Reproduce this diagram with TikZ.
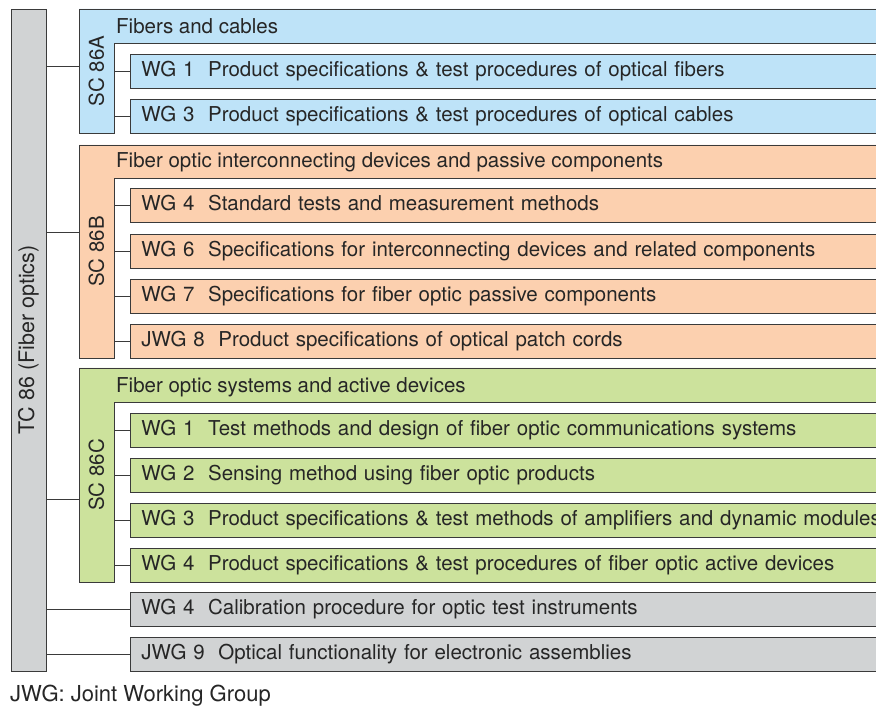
\documentclass[tikz,border=0pt]{standalone}
\usepackage{fontspec}
\setmainfont{TeX Gyre Heros}
\usetikzlibrary{positioning}
\definecolor{scblue}{HTML}{BEE3F8}
\definecolor{scorange}{HTML}{FCD0AF}
\definecolor{scgreen}{HTML}{CCE29C}
\definecolor{tcgray}{HTML}{D1D3D4}
\definecolor{boxline}{HTML}{3A3A3A}

\begin{document}
\begin{tikzpicture}[x=1pt, y=-1pt,
 every node/.style = {font=\fontsize{20.5}{24}\selectfont, text=black!85},
 tcbar/.style = {draw=boxline, fill=tcgray, thick, rotate=90,
      font=\fontsize{21.5}{25}\selectfont,
      minimum width=662pt, minimum height=35pt, inner sep=0pt},
 sclabel/.style = {rotate=90, minimum width=#1, minimum height=35pt, inner sep=0pt},
 header/.style = {anchor=west, inner sep=0pt, text height=15pt, text depth=4.5pt},
 wgbox/.style = {draw=boxline, fill=#1, thick, anchor=west,
      minimum height=34pt, text width=770pt, inner xsep=11pt, inner ysep=0pt,
      text height=15pt, text depth=4.5pt, align=left},
 group/.style = {draw=boxline, fill=#1, thick},
 link/.style = {draw=boxline, semithick}
                    ]
\useasboundingbox (0,0) rectangle (876,708);
\clip (0,0) rectangle (876,708);
% technical committee
\node(tc) [tcbar] at (28.5,340) {TC 86 (Fiber optics)};
% subcommittees
\path[group=scblue]   (79,9)   -| (900,43)  -| (114,133) -- (79,133) -- cycle;
\path[group=scorange] (79,145) -| (900,178) -| (114,358) -- (79,358) -- cycle;
\path[group=scgreen]  (79,368) -| (900,402) -| (114,582) -- (79,582) -- cycle;
\node(scA) [sclabel=124pt] at (96.5,71)    {SC 86A};
\node(scB) [sclabel=213pt] at (96.5,251.5) {SC 86B};
\node(scC) [sclabel=214pt] at (96.5,475)   {SC 86C};
\node(hA) [header] at (116,28)    {Fibers and cables};
\node(hB) [header] at (116,162.75) {Fiber optic interconnecting devices and passive components};
\node(hC) [header] at (116,387.75) {Fiber optic systems and active devices};
% working groups
\node(a1) [wgbox=scblue] at (130,71)  {WG 1\ \ Product specifications \& test procedures of optical fibers};
\node(a3) [wgbox=scblue] at (130,116) {WG 3\ \ Product specifications \& test procedures of optical cables};
\node(b4) [wgbox=scorange] at (130,205.5) {WG 4\ \ Standard tests and measurement methods};
\node(b6) [wgbox=scorange] at (130,251)   {WG 6\ \ Specifications for interconnecting devices and related components};
\node(b7) [wgbox=scorange] at (130,296)   {WG 7\ \ Specifications for fiber optic passive components};
\node(b8) [wgbox=scorange] at (130,341)   {JWG 8\ \ Product specifications of optical patch cords};
\node(c1) [wgbox=scgreen] at (130,430) {WG 1\ \ Test methods and design of fiber optic communications systems};
\node(c2) [wgbox=scgreen] at (130,475) {WG 2\ \ Sensing method using fiber optic products};
\node(c3) [wgbox=scgreen] at (130,520) {WG 3\ \ Product specifications \& test methods of amplifiers and dynamic modules};
\node(c4) [wgbox=scgreen] at (130,565) {WG 4\ \ Product specifications \& test procedures of fiber optic active devices};
\node(wg4)  [wgbox=tcgray] at (130,609.5) {WG 4\ \ Calibration procedure for optic test instruments};
\node(jwg9) [wgbox=tcgray] at (130,654)   {JWG 9\ \ Optical functionality for electronic assemblies};
%
\path[link] (tc.south |- 0,66)  -- (scA.north |- 0,66);
\path[link] (tc.south |- 0,232) -- (scB.north |- 0,232);
\path[link] (tc.south |- 0,499) -- (scC.north |- 0,499);
\path[link] (tc.south |- wg4.west)  -- (wg4.west);
\path[link] (tc.south |- jwg9.west) -- (jwg9.west);
\foreach \wg in {a1,a3}    {\path[link] (scA.south |- \wg.west) -- (\wg.west);}
\foreach \wg in {b4,b6,b7,b8} {\path[link] (scB.south |- \wg.west) -- (\wg.west);}
\foreach \wg in {c1,c2,c3,c4} {\path[link] (scC.south |- \wg.west) -- (\wg.west);}
%
\node(note) [anchor=base west, inner sep=0pt, font=\fontsize{22}{26}\selectfont] at (10,701) {JWG: Joint Working Group};
\end{tikzpicture}
\end{document}
